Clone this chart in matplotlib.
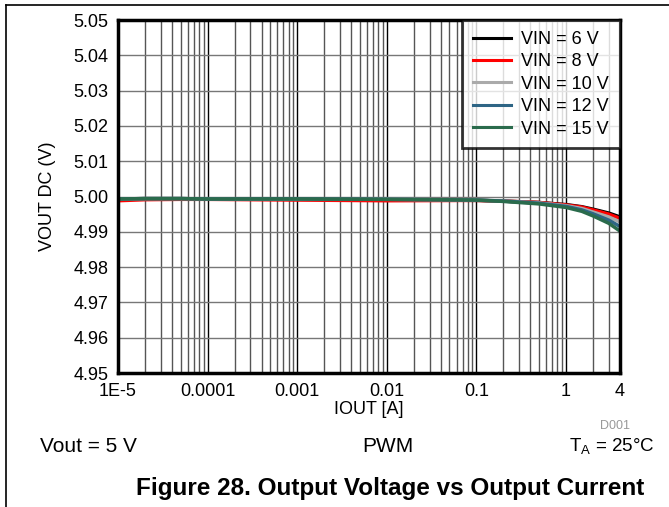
import numpy as np
import matplotlib
matplotlib.use("Agg")
import matplotlib.pyplot as plt
from matplotlib.lines import Line2D
from matplotlib.ticker import FixedLocator, NullFormatter

plt.rcParams['font.family'] = ['Liberation Sans', 'DejaVu Sans']

# Output current [A]
iout = [1e-5, 2e-5, 5e-5, 1e-4, 1e-3, 1e-2, 0.1, 0.2, 0.5, 1.0, 1.5, 2.0, 3.0, 4.0]

# Output voltage [V] for each input voltage
vin_6 = [4.9993, 4.9994, 4.9994, 4.9993, 4.9992, 4.9991, 4.9989, 4.9987, 4.9983, 4.9977, 4.9971, 4.9964, 4.9953, 4.9942]
vin_8 = [4.9988, 4.9991, 4.9992, 4.9992, 4.9990, 4.9988, 4.9989, 4.9987, 4.9983, 4.9976, 4.9970, 4.9962, 4.9950, 4.9938]
vin_10 = [4.9993, 4.9994, 4.9994, 4.9993, 4.9992, 4.9992, 4.9990, 4.9987, 4.9982, 4.9974, 4.9966, 4.9956, 4.9942, 4.9928]
vin_12 = [4.9993, 4.9994, 4.9994, 4.9993, 4.9993, 4.9992, 4.9990, 4.9987, 4.9981, 4.9972, 4.9962, 4.9951, 4.9933, 4.9915]
vin_15 = [4.9993, 4.9994, 4.9994, 4.9993, 4.9993, 4.9992, 4.9990, 4.9986, 4.9979, 4.9969, 4.9958, 4.9945, 4.9924, 4.9902]

series = [
    ("VIN = 6 V", vin_6, "#000000"),
    ("VIN = 8 V", vin_8, "#ff0000"),
    ("VIN = 10 V", vin_10, "#aaaaaa"),
    ("VIN = 12 V", vin_12, "#2e6585"),
    ("VIN = 15 V", vin_15, "#2a6b4c"),
]

xticks = [1e-5, 1e-4, 1e-3, 1e-2, 0.1, 1, 4]
xticklabels = ["1E-5", "0.0001", "0.001", "0.01", "0.1", "1", "4"]
yticks = np.arange(4.95, 5.0501, 0.01)

fig = plt.figure(figsize=(6.69, 5.07), dpi=100)
ax = fig.add_axes([118 / 669, 1 - 373 / 507, (620 - 118) / 669, (373 - 20) / 507])

for label, v, c in series:
    ax.plot(iout, v, color=c, lw=2.5, label=label)

ax.set_xscale("log")
ax.set_xlim(1e-5, 4)
ax.set_ylim(4.95, 5.05)

minors = []
for d in range(-5, 1):
    for m in range(2, 10):
        val = m * 10.0 ** d
        if val < 4:
            minors.append(val)
ax.xaxis.set_minor_locator(FixedLocator(minors))
ax.xaxis.set_minor_formatter(NullFormatter())
ax.set_xticks(xticks)
ax.set_xticklabels(xticklabels)
ax.set_yticks(yticks)
ax.set_yticklabels(["%.2f" % y for y in yticks])

ax.grid(True, which="major", axis="x", color="#000000", lw=1)
ax.grid(True, which="minor", axis="x", color="#555555", lw=1)
ax.grid(True, which="major", axis="y", color="#777777", lw=1)
ax.set_axisbelow(True)

ax.tick_params(which="both", length=0, labelsize=13, pad=7)
for s in ax.spines.values():
    s.set_linewidth(2.5)

ax.set_xlabel("IOUT [A]", fontsize=13, labelpad=1)
ax.set_ylabel("VOUT DC (V)", fontsize=13, labelpad=12)

leg = ax.legend(loc="upper right", fontsize=13, frameon=True, fancybox=False,
                borderaxespad=0, handlelength=2.1, labelspacing=0.3,
                handletextpad=0.6, borderpad=0.6)
leg.get_frame().set_edgecolor("black")
leg.get_frame().set_linewidth(2)
for h in leg.get_lines():
    h.set_linewidth(2.2)

fig.text(615 / 669, 1 - 426 / 507, "D001", color="#999999", fontsize=9, ha="center", va="center")
fig.text(40 / 669, 1 - 447 / 507, "Vout = 5 V", fontsize=15, ha="left", va="center")
fig.text(388 / 669, 1 - 447 / 507, "PWM", fontsize=15, ha="center", va="center")
fig.text(655 / 669, 1 - 447 / 507, r"T$_\mathregular{A}$ = 25°C", fontsize=13.5, ha="right", va="center")
fig.text(390 / 669, 1 - 488 / 507, "Figure 28. Output Voltage vs Output Current",
         fontsize=17.5, fontweight="bold", ha="center", va="center")

# page frame lines
fig.add_artist(Line2D([6 / 669, 6 / 669], [0, 1 - 5 / 507], color="black", lw=1.2))
fig.add_artist(Line2D([6 / 669, 1], [1 - 5 / 507, 1 - 5 / 507], color="black", lw=1.2))

fig.savefig("out.png", dpi=100)
